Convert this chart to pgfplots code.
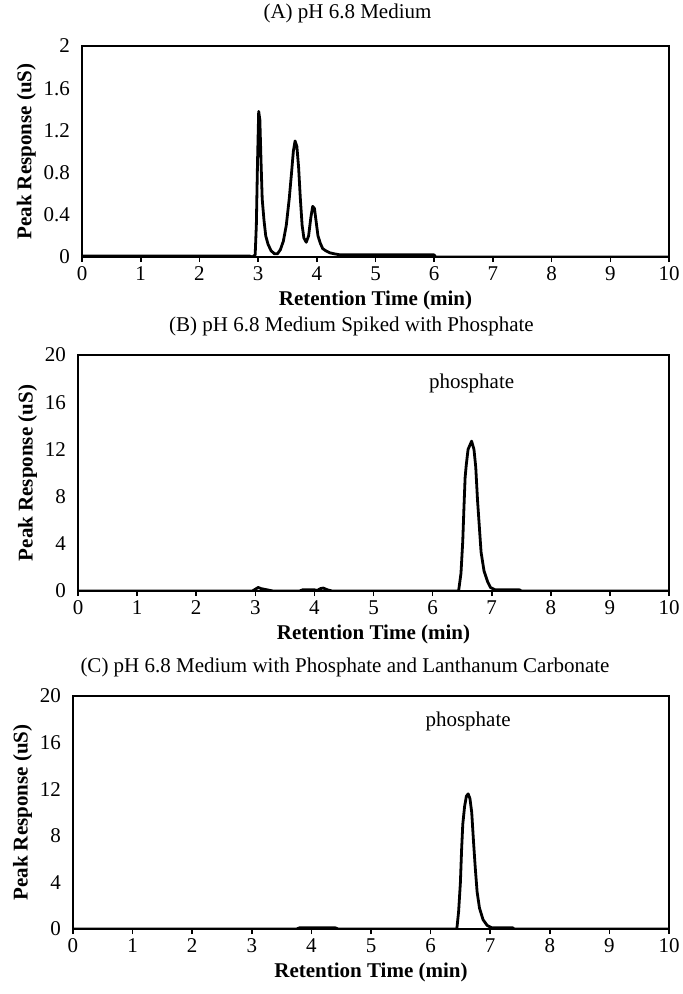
\documentclass[border=0pt]{standalone}
\usepackage{pgfplots}
\pgfplotsset{compat=1.18}
\usepackage{pgfplotstable}
\usepackage{fontspec}
\setmainfont{Liberation Serif}

% (A) medium alone
\pgfplotstableread{
t r
0 0.01
2.85 0.01
2.9 0
2.95 0.02
2.97 0.3
2.99 0.9
3.01 1.38
3.03 1.3
3.05 0.9
3.07 0.55
3.1 0.35
3.13 0.2
3.17 0.12
3.22 0.06
3.28 0.03
3.33 0.03
3.38 0.07
3.43 0.15
3.48 0.3
3.53 0.55
3.57 0.8
3.6 1.0
3.63 1.1
3.66 1.05
3.69 0.85
3.72 0.55
3.75 0.3
3.78 0.18
3.82 0.14
3.86 0.2
3.9 0.38
3.93 0.48
3.96 0.46
3.99 0.33
4.02 0.2
4.06 0.13
4.1 0.08
4.15 0.06
4.22 0.04
4.3 0.03
4.4 0.02
6.0 0.02
6.02 0
10 0
}\chromA

% (B) spiked with phosphate
\pgfplotstableread{
t r
0 0
2.95 0
3.0 0.15
3.05 0.3
3.1 0.2
3.2 0.1
3.3 0
3.75 0
3.8 0.1
4.0 0.1
4.05 0.05
4.1 0.2
4.15 0.25
4.22 0.1
4.3 0
6.44 0
6.48 1.5
6.51 4.2
6.53 7
6.55 9.6
6.57 10.7
6.6 12
6.66 12.7
6.7 12
6.73 10.5
6.76 7.7
6.79 5.5
6.82 3.3
6.87 1.7
6.93 0.8
6.98 0.3
7.06 0.1
7.47 0.1
7.5 0
10 0
}\chromB

% (C) phosphate + lanthanum carbonate
\pgfplotstableread{
t r
0 0
3.75 0
3.8 0.1
4.4 0.1
4.45 0
6.44 0
6.47 1.5
6.5 4
6.52 6.8
6.54 9
6.57 10.5
6.6 11.4
6.63 11.6
6.66 11.2
6.69 10
6.72 7.5
6.75 5.2
6.78 3.2
6.82 1.8
6.88 0.8
6.95 0.3
7.03 0.1
7.38 0.1
7.4 0
10 0
}\chromC

\pgfplotsset{chrom/.style={
  scale only axis,
  xmin=0, xmax=10, ymin=0,
  xtick={0,1,...,10},
  axis line style={line width=0.8pt},
  tick align=outside, xtick pos=bottom, ytick pos=left,
  major tick length=2.5pt,
  x tick style={line width=0.8pt, black},
  y tick style={draw=none},
  tick label style={font=\fontsize{10.5}{12}\selectfont},
  xticklabel style={text height=1.5ex, text depth=0pt, yshift=1pt},
  /pgf/number format/assume math mode=true,
  yticklabel style={/pgf/number format/fixed},
  xlabel={Retention Time (min)},
  ylabel={Peak Response (uS)},
  label style={font=\fontsize{10.5}{12}\selectfont\bfseries},
  xlabel style={yshift=2pt},
  ylabel style={yshift=-3pt},
  title style={font=\fontsize{10.5}{12}\selectfont},
}}

\begin{document}
\begin{tikzpicture}
\useasboundingbox (0,0) rectangle (341pt,-497pt);

\begin{axis}[chrom,
  at={(41pt,-128.5pt)}, anchor=south west,
  width=293.5pt, height=105.5pt,
  ymax=2, ytick={0,0.4,0.8,1.2,1.6,2},
  title={(A) pH 6.8 Medium},
  title style={xshift=-14pt, yshift=2pt}]
\addplot[black, no markers, line width=1.4pt, line join=round] table[x=t, y=r] {\chromA};
\end{axis}

\begin{axis}[chrom,
  at={(39pt,-295.5pt)}, anchor=south west,
  width=295.5pt, height=118pt,
  ymax=20, ytick={0,4,8,12,16,20},
  title={(B) pH 6.8 Medium Spiked with Phosphate},
  title style={xshift=-11pt}]
\addplot[black, no markers, line width=1.4pt, line join=round] table[x=t, y=r] {\chromB};
\node[font=\fontsize{10.5}{12}\selectfont] at (axis cs:6.66,17.6) {phosphate};
\end{axis}

\begin{axis}[chrom,
  at={(36.5pt,-464.5pt)}, anchor=south west,
  width=298pt, height=116.5pt,
  ymax=20, ytick={0,4,8,12,16,20},
  title={(C) pH 6.8 Medium with Phosphate and Lanthanum Carbonate},
  title style={xshift=-13pt}]
\addplot[black, no markers, line width=1.4pt, line join=round] table[x=t, y=r] {\chromC};
\node[font=\fontsize{10.5}{12}\selectfont] at (axis cs:6.63,17.8) {phosphate};
\end{axis}
\end{tikzpicture}
\end{document}
